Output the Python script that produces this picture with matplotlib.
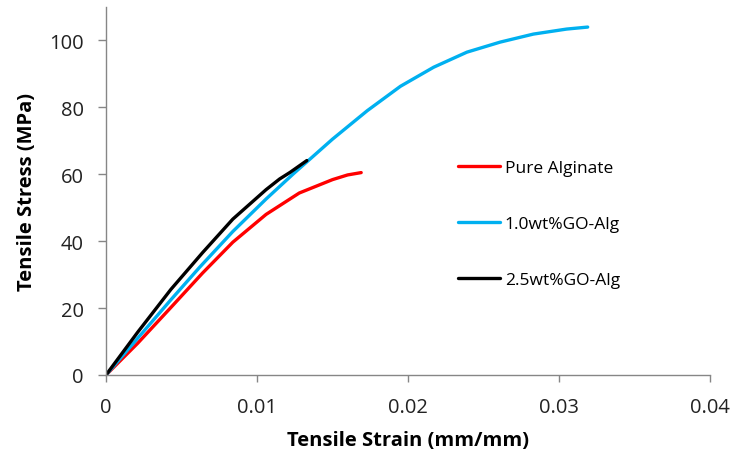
import matplotlib
matplotlib.use("Agg")
import matplotlib.pyplot as plt

plt.rcParams["font.family"] = ["Open Sans", "DejaVu Sans"]

# strain (mm/mm) and stress (MPa)
pure_strain = [0.0, 0.0021, 0.0043, 0.0064, 0.0084, 0.0106, 0.0128, 0.0150, 0.0160, 0.0169]
pure_stress = [0.0, 9.5, 20.2, 30.5, 39.7, 48.0, 54.4, 58.4, 59.8, 60.5]

go10_strain = [0.0, 0.0021, 0.0043, 0.0062, 0.0084, 0.0106, 0.0124, 0.0150, 0.0173,
               0.0195, 0.0217, 0.0239, 0.0261, 0.0283, 0.0305, 0.0319]
go10_stress = [0.0, 11.0, 22.5, 32.2, 42.9, 52.6, 60.1, 70.5, 79.0,
               86.3, 92.0, 96.5, 99.5, 101.9, 103.4, 104.0]

go25_strain = [0.0, 0.0021, 0.0043, 0.0064, 0.0084, 0.0106, 0.0115, 0.0122, 0.0133]
go25_stress = [0.0, 12.8, 25.6, 36.6, 46.6, 55.4, 58.6, 60.6, 64.1]

labels = ["Pure Alginate", "1.0wt%GO-Alg", "2.5wt%GO-Alg"]
colors = ["#ff0000", "#00b0f0", "#000000"]

fig = plt.figure(figsize=(7.37, 4.64), dpi=100)
ax = fig.add_axes([106 / 737, 1 - 376 / 464, (710 - 106) / 737, (376 - 8) / 464])

series = [(pure_strain, pure_stress), (go10_strain, go10_stress), (go25_strain, go25_stress)]
for (x, y), lab, c in zip(series, labels, colors):
    ax.plot(x, y, color=c, linewidth=2.4, label=lab,
            solid_capstyle="round", solid_joinstyle="round")

ax.set_xlim(0, 0.04)
ax.set_ylim(0, 110)
ax.set_xticks([0, 0.01, 0.02, 0.03, 0.04])
ax.set_xticklabels(["0", "0.01", "0.02", "0.03", "0.04"])
ax.set_yticks([0, 20, 40, 60, 80, 100])

for side in ("top", "right"):
    ax.spines[side].set_visible(False)
for side in ("left", "bottom"):
    ax.spines[side].set_color("#868686")
    ax.spines[side].set_linewidth(1.0)

ax.tick_params(axis="y", length=6, width=1, color="#868686", labelsize=14.5,
               labelcolor="#222222", pad=10)
ax.tick_params(axis="x", length=5, width=1, color="#868686", labelsize=14.5,
               labelcolor="#222222", pad=11)

ax.set_xlabel("Tensile Strain (mm/mm)", fontsize=14.5, fontweight="bold", labelpad=9)
ax.set_ylabel("Tensile Stress (MPa)", fontsize=14.5, fontweight="bold", labelpad=9)

ax.legend(loc="center left", bbox_to_anchor=(458 / 737, 1 - 225 / 464),
          bbox_transform=fig.transFigure, frameon=False, fontsize=12.5,
          handlelength=2.4, handletextpad=0.3, labelspacing=2.3,
          borderpad=0, borderaxespad=0)

fig.savefig("out.png", dpi=100)
